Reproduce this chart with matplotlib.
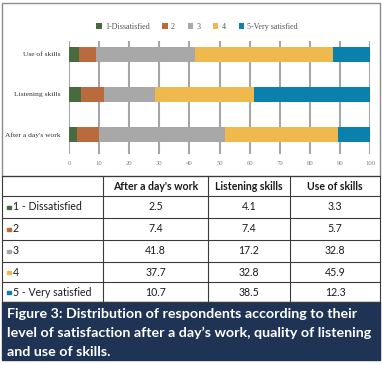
import numpy as np
import matplotlib.pyplot as plt
from matplotlib.patches import Rectangle

# 数据
groups = ["After a day's work", "Listening skills", "Use of skills"]
levels = ['1-Dissatisfied', '2', '3', '4', '5-Very satisfied']
row_labels = ['1 - Dissatisfied', '2', '3', '4', '5 - Very satisfied']
colors = ['#476b3f', '#b96b3d', '#a8a8a8', '#f0b94d', '#0a80ad']

after_work = [2.5, 7.4, 41.8, 37.7, 10.7]
listening = [4.1, 7.4, 17.2, 32.8, 38.5]
use_skills = [3.3, 5.7, 32.8, 45.9, 12.3]

xticks = [0, 10, 20, 30, 40, 50, 60, 70, 80, 90, 100]
caption = ["Figure 3: Distribution of respondents according to their",
           "level of satisfaction after a day\u2019s work, quality of listening",
           "and use of skills."]

W, H = 382, 365
fig = plt.figure(figsize=(W / 100, H / 100), dpi=100)

# 条形图
ax = fig.add_axes([69 / W, (H - 154) / H, 301 / W, 113 / H])
series = np.array([after_work, listening, use_skills])
left = np.zeros(len(groups))
y = np.arange(len(groups))
for i, lev in enumerate(levels):
    ax.barh(y, series[:, i], left=left, height=0.375, color=colors[i], label=lev)
    left += series[:, i]

ax.set_xlim(0, 100)
ax.set_ylim(-0.49, 2.33)
ax.set_xticks(xticks)
ax.set_yticks(y)
ax.set_yticklabels(groups, family='Liberation Serif', fontsize=5.4, color='#333333')
ax.set_xticklabels(xticks, family='Liberation Serif', fontsize=4.8, color='#7f7f7f')
ax.tick_params(length=0)
ax.tick_params(axis='x', pad=5)
ax.tick_params(axis='y', pad=6)
ax.set_axisbelow(True)
ax.grid(axis='x', color='#a6a6a6', lw=1.5)
for s in ax.spines.values():
    s.set_visible(False)

fig.legend(loc='center', bbox_to_anchor=(197 / W, 1 - 27 / H), ncol=5, frameon=False,
           prop={'family': 'Liberation Serif', 'size': 5.8}, labelcolor='#555555',
           handlelength=0.65, handleheight=0.65, handletextpad=0.4, columnspacing=1.6)

# 表格 + 标题
tab = fig.add_axes([0, 0, 1, 1])
tab.set_xlim(0, W)
tab.set_ylim(H, 0)
tab.axis('off')

tab.add_patch(Rectangle((2, 3), 378, 173, fill=False, ec='#8c8c8c', lw=1))

xcols = [2, 103, 208, 290, 380]
yrows = [176, 196, 218, 240, 262, 282, 302]
for yy in yrows:
    tab.plot([2, 380], [yy, yy], color='#3a3a3a', lw=0.8)
for xx in xcols:
    tab.plot([xx, xx], [176, 302], color='#3a3a3a', lw=0.8)

tfont = dict(family='Lato', fontsize=7.6, color='#1a1a1a')
for j, g in enumerate(groups):
    cx = (xcols[j + 1] + xcols[j + 2]) / 2
    tab.text(cx, (yrows[0] + yrows[1]) / 2, g, ha='center', va='center', weight='bold', **tfont)

cols = [after_work, listening, use_skills]
for i, lab in enumerate(row_labels):
    cy = (yrows[i + 1] + yrows[i + 2]) / 2
    tab.add_patch(Rectangle((7, cy - 1.5), 3.5, 3.5, color=colors[i]))
    tab.text(13, cy, lab, ha='left', va='center', **tfont)
    for j, c in enumerate(cols):
        cx = (xcols[j + 1] + xcols[j + 2]) / 2
        tab.text(cx, cy, f'{c[i]:.1f}', ha='center', va='center', **tfont)

tab.add_patch(Rectangle((2, 302), 378, 58, color='#1f3354'))
for k, line in enumerate(caption):
    tab.text(7, 314 + 19 * k, line, ha='left', va='center', family='Lato',
             weight='bold', fontsize=10.3, color='white')

fig.savefig('out.png', dpi=100)
